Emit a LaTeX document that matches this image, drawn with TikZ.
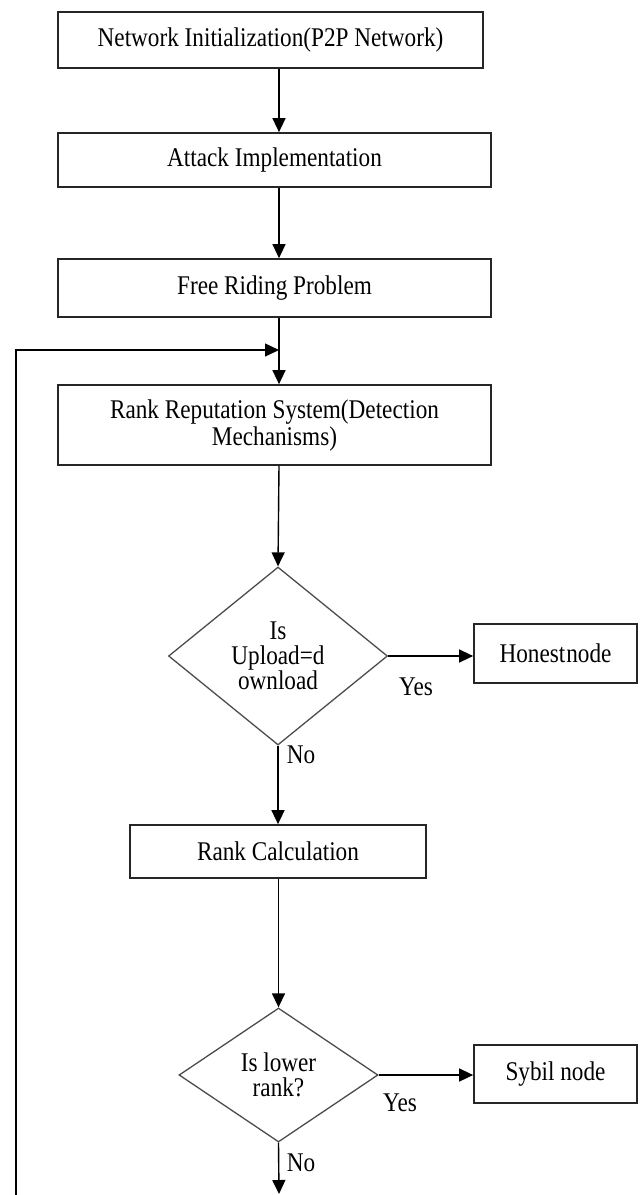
\documentclass[tikz,border=0pt]{standalone}
\usepackage{fontspec}
\setmainfont{Liberation Serif}[FakeStretch=0.86]
\usetikzlibrary{arrows.meta,shapes.geometric}
\begin{document}
\begin{tikzpicture}[x=1pt,y=-1pt,
  txt/.style={font=\fontsize{27}{27}\selectfont},
  procbox/.style={txt,draw=black!85,line width=1.7pt,inner sep=0pt,align=center},
  decision/.style={txt,draw=black!70,line width=1.3pt,shape=diamond,inner sep=0pt,align=center},
  arr/.style={line width=1.4pt,-{Triangle[length=14pt,width=13pt]}},
  lbl/.style={txt,inner sep=0pt}]
\useasboundingbox (0,0) rectangle (640,1195);
% boxes
\node[procbox,minimum width=425pt,minimum height=56pt] (b1) at (270.5,40) {Network Initialization(P2P Network)};
\node[procbox,minimum width=433pt,minimum height=54pt] (b2) at (274.5,160) {Attack Implementation};
\node[procbox,minimum width=433pt,minimum height=58pt] (b3) at (274.5,288) {Free Riding Problem};
\node[procbox,minimum width=433pt,minimum height=80pt] (b4) at (274.5,425) {Rank Reputation System(Detection\\Mechanisms)};
\node[decision,minimum width=219pt,minimum height=178pt,font=\fontsize{27}{25}\selectfont] (d1) at (278,656) {Is\\Upload=d\\ownload};
\node[procbox,minimum width=163pt,minimum height=59pt] (hn) at (555.5,653.5) {Honest\hspace{1pt}node};
\node[procbox,minimum width=296pt,minimum height=53pt] (rc) at (278,851.5) {Rank Calculation};
\node[decision,minimum width=199pt,minimum height=134pt,font=\fontsize{27}{25}\selectfont] (d2) at (278.5,1075) {Is lower\\rank?};
\node[procbox,minimum width=163pt,minimum height=58pt] (sn) at (555.5,1074) {Sybil node};
% coordinates
\coordinate (ax) at (279,0);
\coordinate (join) at (279,350);
\coordinate (loopEnd) at (16,1195);
\coordinate (outEnd) at (279,1194);
% connectors
\draw[arr] (b1.south -| ax) -- (b2.north -| ax);
\draw[arr] (b2.south -| ax) -- (b3.north -| ax);
\draw[arr] (b3.south -| ax) -- (b4.north -| ax);
\draw[arr] (loopEnd) |- (join);
\draw[arr] (b4.south -| ax) -- (d1.north);
\draw[arr] (d1.east) -- (d1.east -| hn.west);
\draw[arr] (d1.south) -- (rc.north -| d1.south);
\draw[arr] (rc.south -| d2.north) -- (d2.north);
\draw[arr] (d2.east) -- (d2.east -| sn.west);
\draw[arr] (d2.south) -- (outEnd);
% labels
\node[lbl] (y1) at (416,687) {Yes};
\node[lbl] (n1) at (301,755) {No};
\node[lbl] (y2) at (400,1103) {Yes};
\node[lbl] (n2) at (301,1163) {No};
\end{tikzpicture}
\end{document}
